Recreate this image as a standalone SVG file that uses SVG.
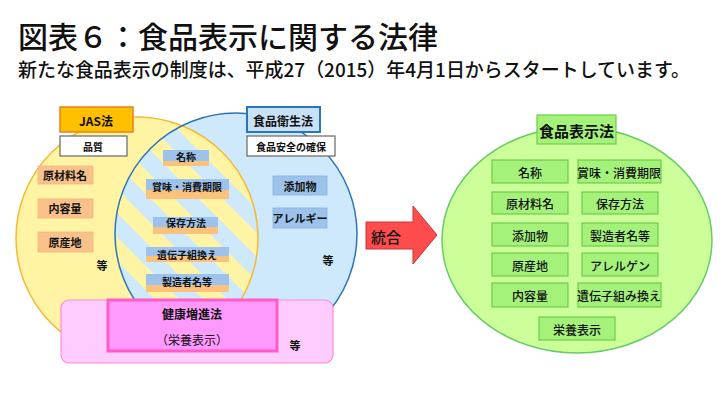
<svg xmlns="http://www.w3.org/2000/svg" width="720" height="405" viewBox="0 0 720 405">
<defs>
<style>
text{font-family:"Noto Sans CJK JP","Noto Sans",sans-serif;fill:#111;text-anchor:middle;dominant-baseline:central}
.title{text-anchor:start;dominant-baseline:alphabetic;font-weight:500}
.b{font-weight:bold}
.s10{font-size:10px}
.s11{font-size:11px}
.s12{font-size:12px}
.orange{fill:#f9c28b;stroke:#f5b57a;stroke-width:0.8}
.blue{fill:#9dc3ec;stroke:#86b1e0;stroke-width:0.8}
.bl{fill:#9dc3ec}
.or{fill:#fbc27e}
.white{fill:#fff;stroke:#666;stroke-width:1.2}
.g{fill:#a4f27a;stroke:#6fcc4a;stroke-width:1.2}
.gt{font-size:12px;font-weight:500}
</style>
<pattern id="stripes" patternUnits="userSpaceOnUse" width="34" height="34" patternTransform="rotate(-45)">
<rect width="34" height="34" fill="#cde9fb"/>
<rect width="17" height="34" fill="#fff4a3"/>
</pattern>
<clipPath id="yc"><circle cx="137" cy="238" r="121"/></clipPath>
</defs>

<g id="title">
<text class="title" x="18" y="48" font-size="30">図表６：食品表示に関する法律</text>
<text class="title" x="18" y="77" font-size="19" textLength="672" lengthAdjust="spacingAndGlyphs">新たな食品表示の制度は、平成27（2015）年4月1日からスタートしています。</text>
</g>

<g id="venn">
<circle cx="137" cy="238" r="121" fill="#fff4a3"/>
<circle cx="236" cy="234" r="121" fill="#cde9fb"/>
<circle cx="236" cy="234" r="121" fill="url(#stripes)" clip-path="url(#yc)"/>
<circle cx="137" cy="238" r="121" fill="none" stroke="#f5b93a" stroke-width="1.5"/>
<circle cx="236" cy="234" r="121" fill="none" stroke="#2e75b6" stroke-width="1.5"/>
</g>

<g id="jas">
<rect x="60" y="107" width="73" height="25" fill="#ffc000" stroke="#e8821c" stroke-width="1.5"/>
<text class="b s12" x="96" y="120">JAS法</text>
</g>
<g id="hinshitsu">
<rect class="white" x="60" y="136" width="67" height="20"/>
<text class="b s10" x="93" y="146">品質</text>
</g>
<g id="genzairyo"><rect class="orange" x="38" y="166" width="55" height="18"/><text class="b s11" x="65" y="175">原材料名</text></g>
<g id="naiyoryo"><rect class="orange" x="38" y="199" width="55" height="19"/><text class="b s11" x="65" y="208">内容量</text></g>
<g id="gensanchi"><rect class="orange" x="38" y="232" width="55" height="20"/><text class="b s11" x="65" y="242">原産地</text></g>
<g id="jas-etc"><text class="b s11" x="102" y="265">等</text></g>

<g id="shokuei">
<rect x="247" y="107" width="73" height="25" fill="#c7e1f7" stroke="#2e75b6" stroke-width="2"/>
<text class="b s12" x="283" y="120">食品衛生法</text>
</g>
<g id="anzen">
<rect class="white" x="247" y="136" width="88" height="20"/>
<text class="b s10" x="291" y="146">食品安全の確保</text>
</g>
<g id="tenkabutsu"><rect class="blue" x="273" y="176" width="54" height="19"/><text class="b s11" x="300" y="186">添加物</text></g>
<g id="allergy"><rect class="blue" x="273" y="208" width="54" height="20"/><text class="b s11" x="300" y="218">アレルギー</text></g>
<g id="ei-etc"><text class="b s11" x="328" y="260">等</text></g>

<g id="meisho"><rect class="or" x="163" y="150" width="46" height="16"/><rect class="bl" x="163" y="150" width="46" height="11"/><text class="b s10" x="186" y="156">名称</text></g>
<g id="shomi"><rect class="or" x="146" y="179" width="83" height="20"/><rect class="bl" x="146" y="179" width="83" height="11"/><text class="b s10" x="187" y="186">賞味・消費期限</text></g>
<g id="hozon"><rect class="or" x="153" y="217" width="65" height="17"/><rect class="bl" x="153" y="217" width="65" height="10"/><text class="b s10" x="186" y="222">保存方法</text></g>
<g id="idenshi"><rect class="or" x="146" y="247" width="83" height="15"/><rect class="bl" x="146" y="247" width="83" height="9"/><text class="b s10" x="187" y="254">遺伝子組換え</text></g>
<g id="seizo"><rect class="or" x="146" y="274" width="83" height="18"/><rect class="bl" x="146" y="274" width="83" height="11"/><text class="b s10" x="187" y="281">製造者名等</text></g>

<g id="kenko">
<rect x="61" y="300" width="272" height="63" rx="8" fill="#ffccff" stroke="#ff8ad8" stroke-width="1.2"/>
<rect x="108" y="300" width="169" height="51" fill="#ff99ff" stroke="#ff5cc8" stroke-width="3"/>
<text class="b s12" x="192" y="313">健康増進法</text>
<text class="s12" x="192" y="339">（栄養表示）</text>
<text class="b s11" x="295" y="345">等</text>
</g>

<g id="connectors">
<polygon points="366,222 413,222 413,206 437,235 413,264 413,249 366,249" fill="#ff4d4d" stroke="#d03030" stroke-width="1"/>
<text x="386" y="236" font-size="15" font-weight="500">統合</text>
</g>

<g id="hyoji">
<ellipse cx="577" cy="240" rx="135" ry="113" fill="#ccff99" stroke="#66cc66" stroke-width="1.5"/>
<rect class="g" x="537" y="115" width="79" height="29"/>
<text class="b" x="576.5" y="130" font-size="15">食品表示法</text>
</g>
<g id="g-meisho"><rect class="g" x="492" y="160" width="76" height="23"/><text class="gt" x="530" y="172">名称</text></g>
<g id="g-shomi"><rect class="g" x="578" y="160" width="83" height="23"/><text class="gt" x="619" y="172">賞味・消費期限</text></g>
<g id="g-genzairyo"><rect class="g" x="492" y="192" width="76" height="22"/><text class="gt" x="530" y="203">原材料名</text></g>
<g id="g-hozon"><rect class="g" x="582" y="192" width="76" height="22"/><text class="gt" x="620" y="203">保存方法</text></g>
<g id="g-tenka"><rect class="g" x="492" y="223" width="76" height="23"/><text class="gt" x="530" y="235">添加物</text></g>
<g id="g-seizo"><rect class="g" x="582" y="223" width="76" height="23"/><text class="gt" x="620" y="235">製造者名等</text></g>
<g id="g-gensan"><rect class="g" x="492" y="253" width="76" height="23"/><text class="gt" x="530" y="265">原産地</text></g>
<g id="g-allergen"><rect class="g" x="582" y="253" width="76" height="23"/><text class="gt" x="620" y="265">アレルゲン</text></g>
<g id="g-naiyo"><rect class="g" x="492" y="283" width="76" height="24"/><text class="gt" x="530" y="295">内容量</text></g>
<g id="g-idenshi"><rect class="g" x="578" y="283" width="83" height="24"/><text class="gt" x="619" y="295">遺伝子組み換え</text></g>
<g id="g-eiyo"><rect class="g" x="539" y="317" width="76" height="23"/><text class="gt" x="577" y="329">栄養表示</text></g>
</svg>
